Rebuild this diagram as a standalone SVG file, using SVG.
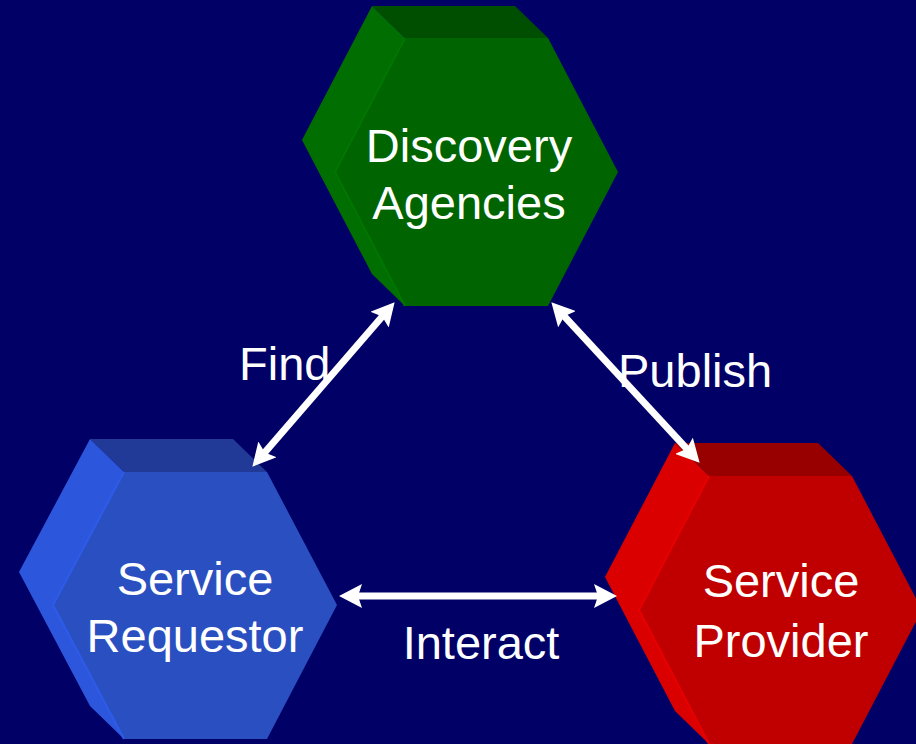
<svg xmlns="http://www.w3.org/2000/svg" width="916" height="744" viewBox="0 0 916 744">
<defs>
<style>
.lbl{font-family:"Liberation Sans",Arial,sans-serif;font-size:47px;fill:#ffffff}
.c{text-anchor:middle}
.edge{fill:none;stroke-width:2}
.conn{stroke:#ffffff;stroke-width:7;fill:none;marker-start:url(#ah);marker-end:url(#ah)}
</style>
<marker id="ah" viewBox="0 0 23 24" markerWidth="23" markerHeight="24" refX="11" refY="12" markerUnits="userSpaceOnUse" orient="auto-start-reverse">
<path d="M0,0 L23,12 L0,24 L4,12 Z" fill="#ffffff"/>
</marker>
</defs>
<rect width="916" height="744" fill="#000066"/>

<g id="discovery">
<polygon points="372,6 515,6 548,38 405,38" fill="#004f00"/>
<polygon points="302,140 372,6 405,38 335,172 405,306 372,274" fill="#006e00"/>
<polygon points="405,38 548,38 618,172 548,306 405,306 335,172" fill="#006400"/>
<polyline class="edge" points="405,38 335,172 405,306" stroke="#007600"/>
<text class="lbl c" x="469" y="162">Discovery</text>
<text class="lbl c" x="469" y="219">Agencies</text>
</g>

<g id="requestor">
<polygon points="90,439 233,439 267,472 124,472" fill="#213a98"/>
<polygon points="19,572 90,439 124,472 53,605 124,739 90,706" fill="#2c56dc"/>
<polygon points="124,472 267,472 337,605 267,739 124,739 53,605" fill="#2a4fc0"/>
<polyline class="edge" points="124,472 53,605 124,739" stroke="#2e5cea"/>
<text class="lbl c" x="195" y="595">Service</text>
<text class="lbl c" x="195" y="652">Requestor</text>
</g>

<g id="provider">
<polygon points="675,443 818,443 852,476 709,476" fill="#980000"/>
<polygon points="605,577 675,443 709,476 639,610 709,744 675,711" fill="#da0000"/>
<polygon points="709,476 852,476 922,610 852,744 709,744 639,610" fill="#c00000"/>
<polyline class="edge" points="709,476 639,610 709,744" stroke="#e80000"/>
<text class="lbl c" x="781" y="597">Service</text>
<text class="lbl c" x="781" y="657">Provider</text>
</g>

<g id="connectors">
<line class="conn" x1="260.2" y1="457.7" x2="386.8" y2="311.3"/>
<line class="conn" x1="559.5" y1="311.1" x2="691.5" y2="453.9"/>
<line class="conn" x1="351" y1="596" x2="605" y2="596"/>
<text class="lbl" x="239" y="380">Find</text>
<text class="lbl" x="618" y="387">Publish</text>
<text class="lbl c" x="481" y="659">Interact</text>
</g>
</svg>
